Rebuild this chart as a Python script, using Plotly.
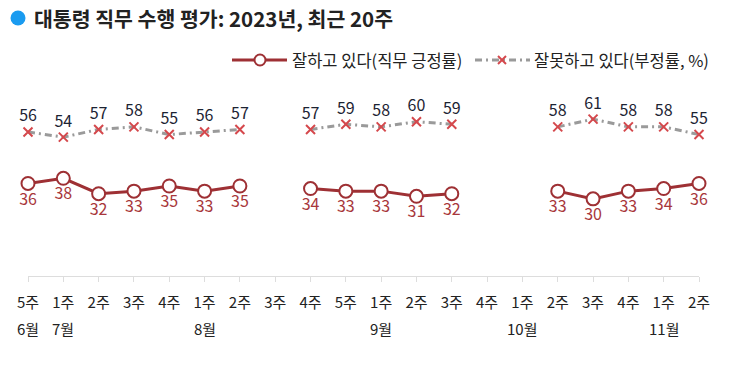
import plotly.graph_objects as go

weeks = ["5주","1주","2주","3주","4주","1주","2주","3주","4주","5주",
         "1주","2주","3주","4주","1주","2주","3주","4주","1주","2주"]
months = ["6월","7월","","","","8월","","","","","9월","","","","10월","","","","11월",""]
approve = [36,38,32,33,35,33,35,None,34,33,33,31,32,None,None,33,30,33,34,36]
disapprove = [56,54,57,58,55,56,57,None,57,59,58,60,59,None,None,58,61,58,58,55]
series_names = ["잘하고 있다(직무 긍정률)", "잘못하고 있다(부정률, %)"]

x = list(range(len(weeks)))
FONT = "Noto Sans CJK KR, Noto Sans, sans-serif"
RED = "#9e3034"
XRED = "#d5484c"
GREY = "#9a9a9a"
DASH = "7px,4px,2px,4px"

# plot area geometry (pixels)
L, R, T, B, W, H = 28, 31, 96, 89, 730, 365
PW, PH = W - L - R, H - T - B
px = lambda v: (v - L) / PW
py = lambda v: (H - B - v) / PH

fig = go.Figure()
fig.add_trace(go.Scatter(
    x=x, y=approve, name=series_names[0],
    mode="lines+markers+text",
    line=dict(color=RED, width=3),
    marker=dict(symbol="circle", size=13, color="white", line=dict(color=RED, width=2)),
    text=[str(v) if v is not None else "" for v in approve],
    textposition="bottom center",
    textfont=dict(family=FONT, size=16, color="#a8373b"),
    connectgaps=False, cliponaxis=False, showlegend=False,
))
fig.add_trace(go.Scatter(
    x=x, y=disapprove, name=series_names[1],
    mode="lines+markers+text",
    line=dict(color=GREY, width=3, dash=DASH),
    marker=dict(symbol="x-thin", size=9, color=XRED, line=dict(color=XRED, width=2)),
    text=[str(v) if v is not None else "" for v in disapprove],
    textposition="top center",
    textfont=dict(family=FONT, size=16, color="#1c2333"),
    connectgaps=False, cliponaxis=False, showlegend=False,
))

for i, m in enumerate(months):
    if m:
        fig.add_annotation(x=i, y=0, xref="x", yref="paper", text=m, showarrow=False,
                           yanchor="middle", yshift=-52,
                           font=dict(family=FONT, size=15, color="#222"))

# title
fig.add_annotation(x=px(32), y=py(18), xref="paper", yref="paper",
                   xanchor="left", yanchor="middle",
                   text="<b>대통령 직무 수행 평가: 2023년, 최근 20주</b>", showarrow=False,
                   font=dict(family=FONT, size=20.5, color="#222"))
fig.add_shape(type="circle", xref="paper", yref="paper",
              x0=px(10.5), x1=px(25.5), y0=py(25.5), y1=py(10.5),
              fillcolor="#1a9bf0", line=dict(width=0))

# custom legend
ly = py(60)
fig.add_shape(type="line", xref="paper", yref="paper", x0=px(232), x1=px(287), y0=ly, y1=ly,
              line=dict(color=RED, width=3))
fig.add_shape(type="circle", xref="paper", yref="paper",
              x0=px(254.5), x1=px(265.5), y0=py(65.5), y1=py(54.5),
              fillcolor="white", line=dict(color=RED, width=2))
fig.add_annotation(x=px(290), y=ly, xref="paper", yref="paper", xanchor="left", yanchor="middle",
                   text=series_names[0], showarrow=False,
                   font=dict(family=FONT, size=16.5, color="#222"))
fig.add_shape(type="line", xref="paper", yref="paper", x0=px(475), x1=px(530), y0=ly, y1=ly,
              line=dict(color=GREY, width=3, dash=DASH))
fig.add_shape(type="line", xref="paper", yref="paper", x0=px(498), x1=px(506),
              y0=py(56), y1=py(64), line=dict(color=XRED, width=2))
fig.add_shape(type="line", xref="paper", yref="paper", x0=px(498), x1=px(506),
              y0=py(64), y1=py(56), line=dict(color=XRED, width=2))
fig.add_annotation(x=px(532), y=ly, xref="paper", yref="paper", xanchor="left", yanchor="middle",
                   text=series_names[1], showarrow=False,
                   font=dict(family=FONT, size=16.5, color="#222"))

fig.update_layout(
    width=W, height=H,
    margin=dict(l=L, r=R, t=T, b=B, autoexpand=False),
    paper_bgcolor="white", plot_bgcolor="white",
    showlegend=False,
    xaxis=dict(range=[0, 19], tickmode="array", tickvals=x, ticktext=weeks,
               showgrid=False, zeroline=False, showline=True, linecolor="#dddddd", linewidth=1,
               ticks="outside", ticklen=5, tickcolor="#dddddd", automargin=False,
               ticklabelstandoff=8,
               tickfont=dict(family=FONT, size=15, color="#222")),
    yaxis=dict(range=[0, 70], visible=False, showgrid=False, zeroline=False, automargin=False),
    font=dict(family=FONT),
)

fig.write_html("out.html", config={"displayModeBar": False},
               post_script="document.body.style.margin='0';")
